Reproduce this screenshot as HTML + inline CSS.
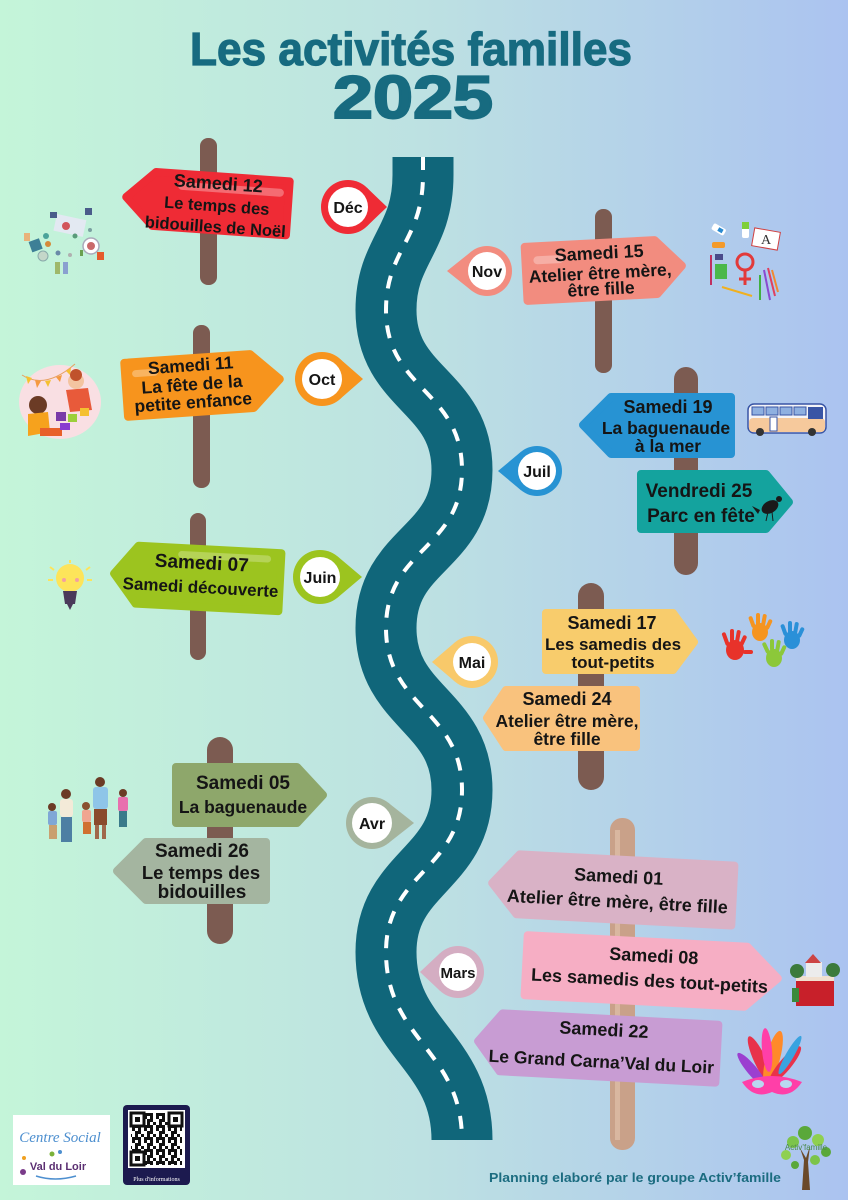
<!DOCTYPE html>
<html><head><meta charset="utf-8"><style>
html,body{margin:0;padding:0;}
body{width:848px;height:1200px;overflow:hidden;}
svg{display:block;}
.t{font-family:"Liberation Sans",sans-serif;font-weight:bold;fill:#151515;text-anchor:middle;}
.title{font-family:"Liberation Sans",sans-serif;font-weight:bold;fill:#176b80;stroke:#176b80;text-anchor:middle;}
.foot{font-family:"Liberation Sans",sans-serif;font-weight:bold;fill:#1b6c80;}
</style></head><body>
<svg width="848" height="1200" viewBox="0 0 848 1200" xmlns="http://www.w3.org/2000/svg">
<defs>
<linearGradient id="bg" x1="0" y1="0" x2="1" y2="0">
<stop offset="0" stop-color="#c4f5d9"/><stop offset="0.5" stop-color="#bde1e2"/><stop offset="1" stop-color="#abc3f0"/>
</linearGradient>
<pattern id="qr" width="12" height="12" patternUnits="userSpaceOnUse">
<rect x="0" y="0" width="3" height="3" fill="#111"/><rect x="6" y="0" width="3" height="6" fill="#111"/>
<rect x="3" y="3" width="3" height="3" fill="#111"/><rect x="9" y="6" width="3" height="3" fill="#111"/>
<rect x="0" y="9" width="6" height="3" fill="#111"/><rect x="6" y="9" width="3" height="3" fill="#111"/>
<rect x="3" y="6" width="3" height="3" fill="#111"/>
</pattern>
</defs>
<rect width="848" height="1200" fill="url(#bg)"/>

<!-- Title -->
<text class="title" x="411" y="65" font-size="46" stroke-width="1.2" textLength="442" lengthAdjust="spacingAndGlyphs">Les activités familles</text>
<text class="title" x="413" y="118" font-size="60" stroke-width="2" textLength="160" lengthAdjust="spacingAndGlyphs">2025</text>

<!-- Road -->
<path d="M423 157 L423 175 C423 240 386 250 386 310 C386 390 462 390 462 470 C462 550 386 548 386 628 C386 708 462 710 462 790 C462 870 386 872 386 952 C386 1040 462 1050 462 1140" fill="none" stroke="#10667a" stroke-width="61"/>
<path d="M423 157 L423 175 C423 240 386 250 386 310 C386 390 462 390 462 470 C462 550 386 548 386 628 C386 708 462 710 462 790 C462 870 386 872 386 952 C386 1040 462 1050 462 1140" fill="none" stroke="#ffffff" stroke-width="4" stroke-dasharray="13 12"/>

<!-- Poles -->
<rect x="200" y="138" width="17" height="147" rx="8" fill="#7c5b51"/>
<rect x="595" y="209" width="17" height="164" rx="8" fill="#7c5b51"/>
<rect x="193" y="325" width="17" height="163" rx="8" fill="#7c5b51"/>
<rect x="674" y="367" width="24" height="208" rx="12" fill="#7c5b51"/>
<rect x="190" y="513" width="16" height="147" rx="8" fill="#7c5b51"/>
<rect x="578" y="583" width="26" height="207" rx="13" fill="#7c5b51"/>
<rect x="207" y="737" width="26" height="207" rx="13" fill="#7c5b51"/>
<rect x="610" y="818" width="25" height="332" rx="12" fill="#c9a189"/>
<rect x="615" y="830" width="5" height="310" fill="#d9b7a0"/>

<!-- Déc sign -->
<g transform="translate(212,203) rotate(4)">
<polygon points="-86,0 -58,-27 76,-27 76,27 -58,27" fill="#ef2b35" stroke="#ef2b35" stroke-width="8" stroke-linejoin="round"/>
<rect x="-35" y="-19" width="106" height="8" rx="4" fill="#ffffff" opacity="0.3"/>
<text class="t" x="5" y="-14" font-size="18">Samedi 12</text>
<text class="t" x="5" y="8" font-size="16.5">Le temps des</text>
<text class="t" x="5" y="29" font-size="16.5">bidouilles de Noël</text>
</g>

<!-- Nov sign -->
<g transform="translate(600,270) rotate(-3)">
<polygon points="-74,-27 56,-27 82,0 56,27 -74,27" fill="#f28c7f" stroke="#f28c7f" stroke-width="8" stroke-linejoin="round"/>
<rect x="-66" y="-17" width="30" height="8" rx="4" fill="#ffffff" opacity="0.3"/>
<text class="t" x="0" y="-11" font-size="18">Samedi 15</text>
<text class="t" x="0" y="9" font-size="17.5">Atelier être mère,</text>
<text class="t" x="0" y="25" font-size="17.5">être fille</text>
</g>

<!-- Oct sign -->
<g transform="translate(195,385) rotate(-4)">
<polygon points="-69,-27 57,-27 85,0 57,27 -69,27" fill="#f7941d" stroke="#f7941d" stroke-width="8" stroke-linejoin="round"/>
<rect x="-62" y="-19" width="26" height="7" rx="3.5" fill="#ffffff" opacity="0.3"/>
<text class="t" x="-3" y="-14" font-size="17.5">Samedi 11</text>
<text class="t" x="-3" y="5" font-size="17.5">La fête de la</text>
<text class="t" x="-3" y="23" font-size="17.5">petite enfance</text>
</g>

<!-- Juil signs -->
<polygon points="583,425 611,397 731,397 731,454 611,454" fill="#2793d3" stroke="#2793d3" stroke-width="8" stroke-linejoin="round"/>
<text class="t" x="668" y="413" font-size="18">Samedi 19</text>
<text class="t" x="666" y="434" font-size="17.5">La baguenaude</text>
<text class="t" x="668" y="452" font-size="17.5">à la mer</text>
<polygon points="641,474 766,474 789,502 766,529 641,529" fill="#14a39e" stroke="#14a39e" stroke-width="8" stroke-linejoin="round"/>
<text class="t" x="699" y="497" font-size="19">Vendredi 25</text>
<text class="t" x="701" y="522" font-size="19">Parc en fête</text>
<!-- bird -->
<g fill="#1a1a1a">
<ellipse cx="770" cy="507" rx="9" ry="6" transform="rotate(-30 770 507)"/>
<circle cx="779" cy="499" r="3"/>
<path d="M760 510 L752 506 L758 514 Z"/>
<line x1="768" y1="512" x2="766" y2="521" stroke="#1a1a1a" stroke-width="1"/>
<line x1="772" y1="512" x2="773" y2="521" stroke="#1a1a1a" stroke-width="1"/>
</g>

<!-- Juin sign -->
<g transform="translate(200,578) rotate(3)">
<polygon points="-86,0 -63,-29 80,-29 80,29 -63,29" fill="#9cc41f" stroke="#9cc41f" stroke-width="8" stroke-linejoin="round"/>
<rect x="-23" y="-26" width="93" height="7" rx="3.5" fill="#ffffff" opacity="0.25"/>
<text class="t" x="1" y="-9" font-size="19">Samedi 07</text>
<text class="t" x="1" y="15" font-size="17">Samedi découverte</text>
</g>

<!-- Mai signs -->
<polygon points="546,613 673,613 694,642 673,670 546,670" fill="#f8cc6c" stroke="#f8cc6c" stroke-width="8" stroke-linejoin="round"/>
<text class="t" x="612" y="629" font-size="18">Samedi 17</text>
<text class="t" x="613" y="650" font-size="17">Les samedis des</text>
<text class="t" x="613" y="668" font-size="17">tout-petits</text>
<polygon points="487,718 506,690 636,690 636,747 506,747" fill="#f9c27d" stroke="#f9c27d" stroke-width="8" stroke-linejoin="round"/>
<text class="t" x="567" y="705" font-size="18">Samedi 24</text>
<text class="t" x="567" y="727" font-size="17.5">Atelier être mère,</text>
<text class="t" x="567" y="745" font-size="17.5">être fille</text>

<!-- Avr signs -->
<polygon points="176,767 297,767 323,795 297,823 176,823" fill="#8ea76b" stroke="#8ea76b" stroke-width="8" stroke-linejoin="round"/>
<text class="t" x="243" y="789" font-size="19">Samedi 05</text>
<text class="t" x="243" y="813" font-size="17.5">La baguenaude</text>
<polygon points="117,871 146,842 266,842 266,900 146,900" fill="#a4b5a0" stroke="#a4b5a0" stroke-width="8" stroke-linejoin="round"/>
<text class="t" x="202" y="857" font-size="19">Samedi 26</text>
<text class="t" x="201" y="879" font-size="18.5">Le temps des</text>
<text class="t" x="202" y="898" font-size="19">bidouilles</text>

<!-- Mars signs -->
<g transform="translate(626,890) rotate(3)">
<polygon points="-134,0 -108,-30 107,-30 107,30 -108,30" fill="#d9b2c6" stroke="#d9b2c6" stroke-width="8" stroke-linejoin="round"/>
<text class="t" x="-8" y="-7" font-size="18">Samedi 01</text>
<text class="t" x="-8" y="18" font-size="18">Atelier être mère, être fille</text>
</g>
<g transform="translate(636,971) rotate(3)">
<polygon points="-110,-30 110,-30 142,0 110,30 -110,30" fill="#f6aec4" stroke="#f6aec4" stroke-width="8" stroke-linejoin="round"/>
<text class="t" x="17" y="-10" font-size="18">Samedi 08</text>
<text class="t" x="14" y="15" font-size="18">Les samedis des tout-petits</text>
</g>
<g transform="translate(609,1048) rotate(3)">
<polygon points="-131,0 -108,-29 108,-29 108,29 -108,29" fill="#c89cd3" stroke="#c89cd3" stroke-width="8" stroke-linejoin="round"/>
<text class="t" x="-6" y="-12" font-size="18">Samedi 22</text>
<text class="t" x="-7" y="20" font-size="17.5">Le Grand Carna’Val du Loir</text>
</g>

<!-- Month markers -->
<g>
<circle cx="348" cy="207" r="27" fill="#ef2b35"/><polygon points="387,207 366.7,187.5 366.7,226.5" fill="#ef2b35"/><circle cx="348" cy="207" r="20" fill="#fff"/>
<text class="t" x="348" y="213" font-size="16">Déc</text>

<circle cx="487" cy="271" r="25" fill="#f28c7f"/><polygon points="447,271 471.4,251.5 471.4,290.5" fill="#f28c7f"/><circle cx="487" cy="271" r="19" fill="#fff"/>
<text class="t" x="487" y="277" font-size="16">Nov</text>

<circle cx="322" cy="379" r="27" fill="#f7941d"/><polygon points="363,379 339.8,358.7 339.8,399.3" fill="#f7941d"/><circle cx="322" cy="379" r="20" fill="#fff"/>
<text class="t" x="322" y="385" font-size="16">Oct</text>

<circle cx="537" cy="471" r="25" fill="#2793d3"/><polygon points="498,471 521,451.8 521,490.2" fill="#2793d3"/><circle cx="537" cy="471" r="19" fill="#fff"/>
<text class="t" x="537" y="477" font-size="16">Juil</text>

<circle cx="320" cy="577" r="27" fill="#9cc41f"/><polygon points="362,577 337.4,556.3 337.4,597.7" fill="#9cc41f"/><circle cx="320" cy="577" r="20" fill="#fff"/>
<text class="t" x="320" y="583" font-size="16">Juin</text>

<circle cx="472" cy="662" r="26" fill="#f8c96a"/><polygon points="432,662 455.1,642.2 455.1,681.8" fill="#f8c96a"/><circle cx="472" cy="662" r="19" fill="#fff"/>
<text class="t" x="472" y="668" font-size="16">Mai</text>

<circle cx="372" cy="823" r="26" fill="#a5b49d"/><polygon points="414,823 388.1,802.6 388.1,843.4" fill="#a5b49d"/><circle cx="372" cy="823" r="20" fill="#fff"/>
<text class="t" x="372" y="829" font-size="16">Avr</text>

<circle cx="458" cy="972" r="26" fill="#d4adc2"/><polygon points="420,972 440.2,953 440.2,991" fill="#d4adc2"/><circle cx="458" cy="972" r="19" fill="#fff"/>
<text class="t" x="458" y="978" font-size="15">Mars</text>
</g>

<!-- Déc crafts -->
<g>
<rect x="55" y="217" width="30" height="17" fill="#e3e9f2" transform="rotate(12 70 225)"/>
<circle cx="66" cy="226" r="4" fill="#d2545a"/>
<rect x="50" y="212" width="7" height="6" fill="#4a5c8a"/>
<rect x="85" y="208" width="7" height="7" fill="#4a5c8a"/>
<rect x="30" y="240" width="11" height="11" fill="#3d7f96" transform="rotate(-20 35 245)"/>
<rect x="24" y="233" width="6" height="8" fill="#e8b27a"/>
<circle cx="46" cy="236" r="3" fill="#4aa39a"/>
<circle cx="48" cy="244" r="3" fill="#d58a3a"/>
<circle cx="43" cy="256" r="5" fill="#c4d7c9" stroke="#8aa" stroke-width="1"/>
<circle cx="91" cy="246" r="8" fill="#fff" stroke="#aab" stroke-width="1.5"/>
<circle cx="91" cy="246" r="4" fill="#c96a6a"/>
<rect x="97" y="252" width="7" height="8" fill="#e55b2b"/>
<rect x="80" y="250" width="3" height="6" fill="#6aa050"/>
<rect x="55" y="262" width="5" height="12" fill="#9fb86a"/>
<rect x="63" y="262" width="5" height="12" fill="#8aa0d0"/>
<circle cx="58" cy="253" r="2.5" fill="#6a8aa8"/>
<circle cx="70" cy="255" r="2" fill="#b0b0b0"/>
<circle cx="75" cy="236" r="2.5" fill="#5a9a7a"/>
<circle cx="90" cy="230" r="2" fill="#7aa0a0"/>
</g>

<!-- Nov art supplies -->
<g>
<rect x="712" y="226" width="14" height="7" rx="2" fill="#fff" transform="rotate(30 719 229)"/>
<rect x="718" y="228" width="5" height="4" fill="#2a8ad0" transform="rotate(30 720 230)"/>
<rect x="742" y="222" width="7" height="16" rx="2" fill="#fff"/>
<rect x="742" y="222" width="7" height="7" fill="#7fcf3a"/>
<rect x="753" y="230" width="26" height="18" fill="#fff" stroke="#d04040" stroke-width="1" transform="rotate(10 766 239)"/>
<text x="766" y="244" font-family="Liberation Serif, serif" font-size="14" fill="#333" text-anchor="middle">A</text>
<rect x="712" y="242" width="13" height="6" rx="2" fill="#f39a2a"/>
<rect x="715" y="254" width="8" height="6" fill="#4a4a8a"/>
<circle cx="745" cy="262" r="8" fill="none" stroke="#e23a3a" stroke-width="3"/>
<line x1="745" y1="270" x2="745" y2="285" stroke="#e23a3a" stroke-width="3"/>
<line x1="739" y1="279" x2="751" y2="279" stroke="#e23a3a" stroke-width="3"/>
<rect x="715" y="264" width="12" height="15" fill="#4ab84a"/>
<line x1="711" y1="255" x2="711" y2="285" stroke="#c03060" stroke-width="2"/>
<line x1="722" y1="287" x2="752" y2="296" stroke="#f0b020" stroke-width="2"/>
<line x1="764" y1="270" x2="770" y2="300" stroke="#8a4ad0" stroke-width="2"/>
<line x1="768" y1="268" x2="775" y2="296" stroke="#e04060" stroke-width="2"/>
<line x1="772" y1="270" x2="778" y2="292" stroke="#f08a30" stroke-width="2"/>
<line x1="760" y1="275" x2="760" y2="300" stroke="#40b040" stroke-width="2"/>
</g>

<!-- Oct kids -->
<g>
<ellipse cx="60" cy="402" rx="41" ry="37" fill="#f9dfe3"/>
<path d="M22 375 Q45 390 75 364" fill="none" stroke="#e8a060" stroke-width="1"/>
<polygon points="26,376 32,378 28,384" fill="#f5c030"/>
<polygon points="35,380 41,381 37,388" fill="#f59a40"/>
<polygon points="45,381 51,380 48,387" fill="#f5c030"/>
<polygon points="56,377 62,375 60,382" fill="#f59a40"/>
<polygon points="66,371 71,368 70,375" fill="#f5c030"/>
<circle cx="38" cy="405" r="9" fill="#6b3b25"/>
<path d="M28 414 L48 412 L50 432 L28 436 Z" fill="#f6a21d"/>
<rect x="40" y="428" width="22" height="8" fill="#e8602a"/>
<circle cx="76" cy="381" r="8" fill="#f3c4a0"/>
<circle cx="76" cy="375" r="6" fill="#c0522c"/>
<path d="M66 390 L88 388 L92 410 L70 412 Z" fill="#e85a3a"/>
<rect x="56" y="412" width="10" height="9" fill="#7a3aa8"/>
<rect x="68" y="414" width="9" height="8" fill="#9ccf3a"/>
<rect x="80" y="408" width="9" height="8" fill="#f5c030"/>
<rect x="60" y="423" width="10" height="7" fill="#8a3ad0"/>
</g>

<!-- Bus -->
<g>
<rect x="748" y="404" width="78" height="29" rx="6" fill="#f4f4f8" stroke="#3955a5" stroke-width="1.5"/>
<rect x="749" y="418" width="76" height="14" rx="4" fill="#f6c99c"/>
<rect x="752" y="407" width="12" height="8" fill="#8fb0e0" stroke="#3955a5" stroke-width="1"/>
<rect x="766" y="407" width="12" height="8" fill="#8fb0e0" stroke="#3955a5" stroke-width="1"/>
<rect x="780" y="407" width="12" height="8" fill="#8fb0e0" stroke="#3955a5" stroke-width="1"/>
<rect x="794" y="407" width="12" height="8" fill="#8fb0e0" stroke="#3955a5" stroke-width="1"/>
<rect x="808" y="407" width="15" height="12" fill="#3955a5"/>
<rect x="770" y="417" width="7" height="14" fill="#fff" stroke="#3955a5" stroke-width="1"/>
<circle cx="760" cy="432" r="4" fill="#333"/>
<circle cx="812" cy="432" r="4" fill="#333"/>
</g>

<!-- Lightbulb -->
<g>
<circle cx="70" cy="578" r="14" fill="#fde45a"/>
<circle cx="64" cy="580" r="2" fill="#f4a0a0"/><circle cx="77" cy="580" r="2" fill="#f4a0a0"/>
<path d="M63 591 L77 591 L75 604 L65 604 Z" fill="#4a3a5a"/>
<path d="M67 604 L73 604 L70 610 Z" fill="#4a3a5a"/>
<line x1="50" y1="567" x2="54" y2="570" stroke="#fde45a" stroke-width="2"/>
<line x1="48" y1="580" x2="53" y2="580" stroke="#fde45a" stroke-width="2"/>
<line x1="90" y1="567" x2="86" y2="570" stroke="#fde45a" stroke-width="2"/>
<line x1="92" y1="580" x2="87" y2="580" stroke="#fde45a" stroke-width="2"/>
<line x1="70" y1="560" x2="70" y2="563" stroke="#fde45a" stroke-width="2"/>
</g>

<!-- Hands -->
<g>
<g fill="#e8322a"><ellipse cx="735" cy="650" rx="9" ry="10"/><rect x="724" y="632" width="4" height="14" rx="2" transform="rotate(-20 726 640)"/><rect x="730" y="629" width="4" height="14" rx="2"/><rect x="736" y="630" width="4" height="13" rx="2" transform="rotate(10 738 636)"/><rect x="741" y="635" width="4" height="12" rx="2" transform="rotate(25 743 641)"/><rect x="743" y="650" width="10" height="4" rx="2"/></g>
<g fill="#f59420"><ellipse cx="760" cy="632" rx="8" ry="9"/><rect x="750" y="616" width="4" height="12" rx="2" transform="rotate(-20 752 622)"/><rect x="756" y="613" width="4" height="13" rx="2"/><rect x="762" y="614" width="4" height="12" rx="2" transform="rotate(10 764 620)"/><rect x="767" y="619" width="4" height="11" rx="2" transform="rotate(25 769 624)"/></g>
<g fill="#8cc83a"><ellipse cx="774" cy="658" rx="8" ry="9"/><rect x="764" y="642" width="4" height="12" rx="2" transform="rotate(-25 766 648)"/><rect x="770" y="639" width="4" height="12" rx="2"/><rect x="776" y="640" width="4" height="12" rx="2" transform="rotate(10 778 646)"/><rect x="781" y="645" width="4" height="11" rx="2" transform="rotate(25 783 650)"/></g>
<g fill="#2a90d8"><ellipse cx="792" cy="640" rx="8" ry="9"/><rect x="782" y="624" width="4" height="12" rx="2" transform="rotate(-20 784 630)"/><rect x="788" y="621" width="4" height="13" rx="2"/><rect x="794" y="622" width="4" height="12" rx="2" transform="rotate(10 796 628)"/><rect x="799" y="627" width="4" height="11" rx="2" transform="rotate(25 801 632)"/></g>
</g>

<!-- Family -->
<g>
<circle cx="52" cy="807" r="4" fill="#6b3b25"/><rect x="48" y="811" width="9" height="14" rx="2" fill="#7fa7d6"/><rect x="49" y="825" width="8" height="14" fill="#c9a070"/>
<circle cx="66" cy="794" r="5" fill="#6b3b25"/><rect x="60" y="799" width="13" height="18" rx="3" fill="#f3ead8"/><rect x="61" y="817" width="11" height="25" fill="#4d7fa3"/>
<circle cx="86" cy="806" r="4" fill="#8a5030"/><rect x="82" y="810" width="9" height="12" rx="2" fill="#f0a590"/><rect x="83" y="822" width="8" height="12" fill="#d07030"/>
<circle cx="100" cy="782" r="5" fill="#6b3b25"/><rect x="93" y="787" width="15" height="22" rx="3" fill="#8ec5e8"/><rect x="94" y="809" width="13" height="16" fill="#8a4b2b"/><rect x="95" y="825" width="4" height="14" fill="#a0684a"/><rect x="102" y="825" width="4" height="14" fill="#a0684a"/>
<circle cx="123" cy="793" r="4" fill="#6b3b25"/><rect x="118" y="797" width="10" height="14" rx="2" fill="#e86fae"/><rect x="119" y="811" width="8" height="16" fill="#3a7a8a"/>
</g>

<!-- Book castle -->
<g>
<rect x="796" y="978" width="38" height="28" fill="#c8202a"/>
<rect x="796" y="976" width="38" height="5" fill="#f0e0d0"/>
<circle cx="797" cy="971" r="7" fill="#3b7a3b"/>
<circle cx="833" cy="970" r="7" fill="#3b7a3b"/>
<rect x="806" y="962" width="16" height="15" fill="#ececec"/>
<polygon points="805,963 813,954 821,963" fill="#c44"/>
<rect x="792" y="988" width="7" height="14" fill="#3a8a3a"/>
</g>

<!-- Feathers -->
<g>
<ellipse cx="760" cy="1060" rx="6" ry="26" fill="#e8324a" transform="rotate(-25 760 1060)"/>
<ellipse cx="773" cy="1058" rx="7" ry="28" fill="#ff8a2a" transform="rotate(15 773 1058)"/>
<ellipse cx="785" cy="1065" rx="6" ry="24" fill="#e8324a" transform="rotate(40 785 1065)"/>
<ellipse cx="752" cy="1070" rx="5" ry="22" fill="#9b3fd0" transform="rotate(-40 752 1070)"/>
<ellipse cx="790" cy="1055" rx="4" ry="22" fill="#39a3e0" transform="rotate(30 790 1055)"/>
<ellipse cx="767" cy="1050" rx="5" ry="22" fill="#ff3fa8" transform="rotate(-5 767 1050)"/>
<path d="M742 1082 Q772 1070 802 1082 Q790 1100 772 1092 Q754 1100 742 1082 Z" fill="#ff3fa8"/>
<ellipse cx="758" cy="1084" rx="6" ry="4" fill="#b9d8f0"/>
<ellipse cx="786" cy="1084" rx="6" ry="4" fill="#b9d8f0"/>
</g>

<!-- Bottom: logo -->
<rect x="13" y="1115" width="97" height="70" fill="#ffffff"/>
<text x="60" y="1142" font-family="Liberation Serif, serif" font-style="italic" font-size="15" fill="#4d8fcf" text-anchor="middle">Centre Social</text>
<circle cx="24" cy="1158" r="2" fill="#f0a020"/>
<circle cx="23" cy="1172" r="3" fill="#7a3b8a"/>
<circle cx="52" cy="1154" r="2.5" fill="#7bb23a"/>
<circle cx="60" cy="1152" r="2" fill="#4d8fcf"/>
<text class="t" x="58" y="1170" font-size="11" style="fill:#5b2f72">Val du Loir</text>
<path d="M36 1176 Q55 1182 76 1176" fill="none" stroke="#4d8fcf" stroke-width="1.5"/>

<!-- QR -->
<rect x="123" y="1105" width="67" height="80" rx="4" fill="#1c1a4f"/>
<rect x="128" y="1110" width="57" height="58" fill="#ffffff"/>
<rect x="131" y="1113" width="51" height="52" fill="url(#qr)"/>
<rect x="131" y="1113" width="13" height="13" fill="#fff" stroke="#111" stroke-width="3"/>
<rect x="169" y="1113" width="13" height="13" fill="#fff" stroke="#111" stroke-width="3"/>
<rect x="131" y="1152" width="13" height="13" fill="#fff" stroke="#111" stroke-width="3"/>
<rect x="135" y="1117" width="5" height="5" fill="#111"/>
<rect x="173" y="1117" width="5" height="5" fill="#111"/>
<rect x="135" y="1156" width="5" height="5" fill="#111"/>
<text x="156.5" y="1181" font-family="Liberation Serif, serif" font-size="6" fill="#ffffff" text-anchor="middle">Plus d'informations</text>

<!-- Footer text -->
<text class="foot" x="489" y="1182" font-size="12.5" textLength="292" lengthAdjust="spacingAndGlyphs">Planning elaboré par le groupe Activ’famille</text>

<!-- Tree logo -->
<g>
<path d="M802 1190 L804 1160 L800 1148 L806 1158 L810 1146 L808 1162 L810 1190 Z" fill="#6b4a2a"/>
<circle cx="793" cy="1142" r="6" fill="#7cc44a"/>
<circle cx="805" cy="1133" r="7" fill="#5aa83a"/>
<circle cx="818" cy="1140" r="6" fill="#8fd050"/>
<circle cx="826" cy="1152" r="5" fill="#5aa83a"/>
<circle cx="786" cy="1155" r="5" fill="#8fd050"/>
<circle cx="815" cy="1160" r="5" fill="#7cc44a"/>
<circle cx="795" cy="1165" r="4" fill="#5aa83a"/>
<text x="806" y="1150" font-family="Liberation Sans, sans-serif" font-size="8" fill="#4a8a4a" text-anchor="middle">Activ’famille</text>
</g>
</svg>
</body></html>
